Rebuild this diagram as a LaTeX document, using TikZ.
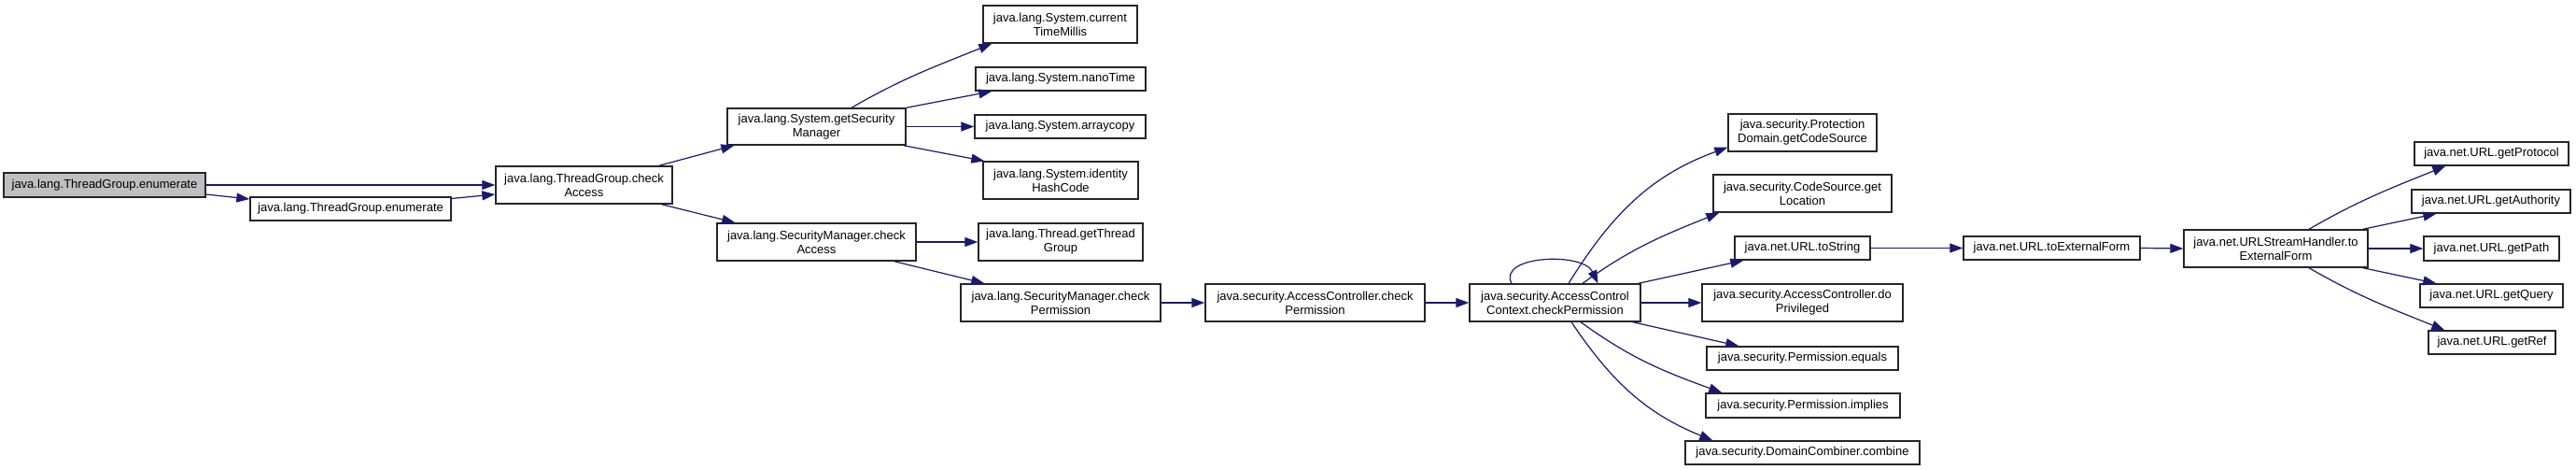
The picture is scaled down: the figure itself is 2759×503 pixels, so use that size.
\documentclass[tikz,border=0pt]{standalone}
\usepackage{fontspec}
\setmainfont{Liberation Sans}
\usetikzlibrary{arrows.meta,calc}
\definecolor{edgec}{HTML}{191970}
\definecolor{rootfill}{HTML}{BFBFBF}
\tikzset{
  fn/.style={draw=black!85, line width=1.4pt, fill=white, inner sep=0pt, align=center,
    font=\fontsize{13}{15}\selectfont},
  root/.style={fn, fill=rootfill},
  edge/.style={draw=edgec, line width=1.2pt, -{Triangle[length=14pt,width=10pt]}},
}
\newcommand\fnode[6]{\node[#1, minimum width=#4pt, minimum height=#5pt] (#2) at (#3) {#6};}
\begin{document}
\begin{tikzpicture}[x=1pt,y=-1pt]
\useasboundingbox (0,0) rectangle (2759,503);
\fnode{root}{n0}{112,198}{216}{26}{java.lang.ThreadGroup.enumerate}
\fnode{fn}{n1}{375.5,223.5}{215}{25}{java.lang.ThreadGroup.enumerate}
\fnode{fn}{n2}{625.5,198}{189}{40}{java.lang.ThreadGroup.check\\Access}
\fnode{fn}{gsm}{874.5,135.5}{191}{39}{java.lang.System.getSecurity\\Manager}
\fnode{fn}{smca}{874.5,259}{213}{40}{java.lang.SecurityManager.check\\Access}
\fnode{fn}{ctm}{1135.5,26}{165}{40}{java.lang.System.current\\TimeMillis}
\fnode{fn}{nano}{1136,84.5}{182}{25}{java.lang.System.nanoTime}
\fnode{fn}{arr}{1135.5,135.5}{183}{25}{java.lang.System.arraycopy}
\fnode{fn}{ihc}{1136,193}{166}{40}{java.lang.System.identity\\HashCode}
\fnode{fn}{tgt}{1136,259}{176}{40}{java.lang.Thread.getThread\\Group}
\fnode{fn}{smcp}{1136,324}{214}{40}{java.lang.SecurityManager.check\\Permission}
\fnode{fn}{accp}{1408.5,324}{235}{40}{java.security.AccessController.check\\Permission}
\fnode{fn}{acc}{1665.5,324}{183}{40}{java.security.AccessControl\\Context.checkPermission}
\fnode{fn}{pd}{1930.5,142}{159}{40}{java.security.Protection\\Domain.getCodeSource}
\fnode{fn}{cs}{1930.5,207}{191}{40}{java.security.CodeSource.get\\Location}
\fnode{fn}{uts}{1930.5,265.5}{145}{25}{java.net.URL.toString}
\fnode{fn}{dp}{1930.5,324}{215}{40}{java.security.AccessController.do\\Privileged}
\fnode{fn}{pe}{1930.5,383.5}{205}{25}{java.security.Permission.equals}
\fnode{fn}{pi}{1931,434}{208}{26}{java.security.Permission.implies}
\fnode{fn}{dc}{1930.5,484.5}{251}{25}{java.security.DomainCombiner.combine}
\fnode{fn}{uef}{2197.5,265.5}{189}{25}{java.net.URL.toExternalForm}
\fnode{fn}{ush}{2437.5,266}{197}{40}{java.net.URLStreamHandler.to\\ExternalForm}
\fnode{fn}{gp}{2668.5,164.5}{165}{25}{java.net.URL.getProtocol}
\fnode{fn}{ga}{2668,215.5}{170}{25}{java.net.URL.getAuthority}
\fnode{fn}{gpa}{2668.5,266}{145}{26}{java.net.URL.getPath}
\fnode{fn}{gq}{2668.5,316.5}{153}{25}{java.net.URL.getQuery}
\fnode{fn}{gr}{2669,366.5}{136}{25}{java.net.URL.getRef}

% edges
\draw[edge] (n0.east) -- (n0.east -| n2.west);
\draw[edge] ([yshift=-10pt]n0.east) -- ([yshift=10.5pt]n1.west);
\draw[edge] ([yshift=11pt]n1.east) -- ([yshift=-10pt]n2.west);
\draw[edge] ([xshift=-15pt]n2.north east) -- ([xshift=8pt]gsm.south west);
\draw[edge] ([xshift=-12pt]n2.south east) -- ([xshift=20pt]smca.north west);
\draw[edge] ([xshift=37.5pt]gsm.north) to[out=30,in=202] ([xshift=10pt]ctm.south west);
\draw[edge] (gsm.north east) -- ([xshift=18pt]nano.south west);
\draw[edge] (gsm.east) -- (gsm.east -| arr.west);
\draw[edge] ([xshift=-3pt]gsm.south east) -- ([xshift=2pt]ihc.north west);
\draw[edge] (smca.east) -- (tgt.west);
\draw[edge] ([xshift=-24pt]smca.south east) -- ([xshift=26pt]smcp.north west);
\draw[edge] (smcp.east) -- (accp.west);
\draw[edge] (accp.east) -- (acc.west);
\draw[edge] ([xshift=-46.5pt]acc.north) .. controls ([xshift=-62pt,yshift=30pt]acc.north) and ([xshift=30pt,yshift=34pt]acc.north) .. ([xshift=46pt]acc.north);
\draw[edge] ([xshift=14.5pt]acc.north) to[out=58,in=200] ([yshift=5pt]pd.south west);
\draw[edge] ([xshift=29.5pt]acc.north) to[out=36,in=202] ([xshift=7pt]cs.south west);
\draw[edge] ([xshift=-3pt]acc.north east) -- ([xshift=10pt]uts.south west);
\draw[edge] (acc.east) -- (dp.west);
\draw[edge] ([xshift=-9pt]acc.south east) -- ([xshift=35pt]pe.north west);
\draw[edge] ([xshift=27.5pt]acc.south) to[out=-36,in=160] ([xshift=18pt]pi.north west);
\draw[edge] ([xshift=17.5pt]acc.south) to[out=-56,in=158] ([xshift=30pt]dc.north west);
\draw[edge] (uts.east) -- (uef.west);
\draw[edge] (uef.east) -- (ush.west);
\draw[edge] ([xshift=35.5pt]ush.north) to[out=30,in=202] ([xshift=34pt]gp.south west);
\draw[edge] ([xshift=-6pt]ush.north east) -- ([xshift=27pt]ga.south west);
\draw[edge] (ush.east) -- (ush.east -| gpa.west);
\draw[edge] ([xshift=-6pt]ush.south east) -- ([xshift=18pt]gq.north west);
\draw[edge] ([xshift=35.5pt]ush.south) to[out=-30,in=158] ([xshift=18pt]gr.north west);
\end{tikzpicture}
\end{document}
